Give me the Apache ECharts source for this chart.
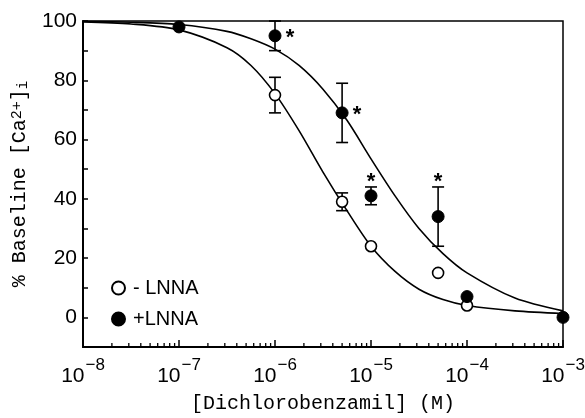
<!DOCTYPE html>
<html>
<head>
<meta charset="utf-8">
<script src="https://cdn.jsdelivr.net/npm/echarts@6/dist/echarts.min.js"></script>
<style>
html, body { margin: 0; padding: 0; background: #fff; }
#chart { width: 585px; height: 418px; }
</style>
</head>
<body>
<div id="chart"></div>
<script>
// measured points (dichlorobenzamil, M)
var openX = [1e-6, 5e-6, 1e-5, 5e-5, 1e-4];
var openY = [75, 39, 24, 15, 4];
var openErr = [6, 3, 0, 0, 0];

var filledX = [1e-7, 1e-6, 5e-6, 1e-5, 5e-5, 1e-4, 1e-3];
var filledY = [98, 95, 69, 41, 34, 7, 0];
var filledErr = [0, 5, 10, 3, 10, 0, 0];
var filledStar = ['', 'right', 'right', 'top', 'top', '', ''];

// fitted curves
var curveX = [1e-8, 3.16e-8, 1e-7, 3.16e-7, 5.62e-7, 1e-6, 1.78e-6, 3.16e-6, 5.62e-6, 1e-5, 1.78e-5, 3.16e-5, 5.62e-5, 1e-4, 3.16e-4, 1e-3];
var openCurve = [99.7, 99.0, 97, 91, 85, 75.5, 63, 49, 36, 24, 15.5, 9.5, 6, 4, 2.2, 1.3];
var filledCurve = [99.9, 99.6, 98.8, 96.5, 94, 90.5, 85, 77, 66.5, 53.5, 41, 30, 21.5, 15, 6.5, 2.2];

var yTicks = [0, 20, 40, 60, 80, 100];
var legendNames = ['- LNNA', '+LNNA'];

function pairs(xs, ys) {
    return xs.map(function (x, i) { return [x, ys[i]]; });
}

// x minor ticks 2..9 per decade
var minorX = [];
for (var d = -8; d < -3; d++) {
    for (var m = 2; m <= 9; m++) minorX.push([m * Math.pow(10, d), -10]);
}

function errItem(params, api) {
    var x = api.value(0), y = api.value(1), e = api.value(2);
    var kids = [];
    var top = api.coord([x, y + e]), bot = api.coord([x, y - e]);
    if (e > 0) {
        var w = 6;
        kids.push({ type: 'line', shape: { x1: top[0], y1: top[1], x2: bot[0], y2: bot[1] }, style: { stroke: '#000', lineWidth: 1.6 } });
        kids.push({ type: 'line', shape: { x1: top[0] - w, y1: top[1], x2: top[0] + w, y2: top[1] }, style: { stroke: '#000', lineWidth: 1.6 } });
        kids.push({ type: 'line', shape: { x1: bot[0] - w, y1: bot[1], x2: bot[0] + w, y2: bot[1] }, style: { stroke: '#000', lineWidth: 1.6 } });
    }
    var star = params.seriesName === 'errFilled' ? filledStar[params.dataIndex] : '';
    if (star) {
        var p = api.coord([x, y]);
        var sx = star === 'right' ? p[0] + 15 : top[0];
        var sy = star === 'right' ? p[1] + 2 : top[1] - 5;
        kids.push({ type: 'text', style: { text: '*', x: sx, y: sy, align: 'center', verticalAlign: 'middle', font: 'bold 22px "Liberation Sans"', fill: '#000' } });
    }
    return { type: 'group', children: kids };
}

var myChart = echarts.init(document.getElementById('chart'));

var option = {
    animation: false,
    backgroundColor: '#fff',
    grid: {
        left: 83, right: 22, top: 21, bottom: 71,
        outerBoundsMode: 'none',
        show: true, borderColor: '#000', borderWidth: 1.5
    },
    legend: {
        data: legendNames,
        orient: 'vertical',
        left: 111, top: 278,
        padding: 0,
        itemGap: 11,
        itemWidth: 13, itemHeight: 13,
        icon: 'circle',
        textStyle: { fontFamily: 'Liberation Sans', fontSize: 20, color: '#000', padding: [0, 0, 0, 3] }
    },
    xAxis: {
        type: 'log',
        min: 1e-8, max: 1e-3,
        logBase: 10,
        name: '[Dichlorobenzamil] (M)',
        nameLocation: 'middle',
        nameGap: 47,
        nameTextStyle: { fontFamily: 'Liberation Mono', fontSize: 20, color: '#000' },
        axisLine: { onZero: false, lineStyle: { color: '#000', width: 2 } },
        axisTick: { inside: true, length: 7, lineStyle: { color: '#000', width: 1.5 } },
        splitLine: { show: false },
        axisLabel: {
            margin: 10,
            formatter: function (v) {
                var e = Math.round(Math.log10(v));
                return '{b|10}{s|\u2212' + Math.abs(e) + '}';
            },
            rich: {
                b: { fontFamily: 'Liberation Sans', fontSize: 21, color: '#000', lineHeight: 30, verticalAlign: 'bottom' },
                s: { fontFamily: 'Liberation Sans', fontSize: 17, color: '#000', lineHeight: 18, verticalAlign: 'top', padding: [0, 0, 0, 1] }
            }
        }
    },
    yAxis: {
        type: 'value',
        min: -10, max: 100, interval: 10,
        name: '% Baseline [Ca{sup|2+}]{sub|i}',
        nameLocation: 'middle',
        nameGap: 53,
        nameRotate: 90,
        nameTextStyle: {
            fontFamily: 'Liberation Mono', fontSize: 20, color: '#000',
            rich: {
                sup: { fontFamily: 'Liberation Mono', fontSize: 15, color: '#000', verticalAlign: 'top' },
                sub: { fontFamily: 'Liberation Mono', fontSize: 14, color: '#000', verticalAlign: 'bottom' }
            }
        },
        axisLine: { lineStyle: { color: '#000', width: 2 } },
        axisTick: { inside: true, length: 5, lineStyle: { color: '#000', width: 1.5 } },
        splitLine: { show: false },
        axisLabel: {
            margin: 6,
            fontFamily: 'Liberation Sans', fontSize: 21, color: '#000',
            formatter: function (v) { return yTicks.indexOf(v) >= 0 ? String(v) : ''; }
        }
    },
    series: [
        {
            type: 'line', name: 'fitOpen', data: pairs(curveX, openCurve),
            showSymbol: false, smooth: 0.3, silent: true,
            lineStyle: { color: '#000', width: 1.6 }, z: 2
        },
        {
            type: 'line', name: 'fitFilled', data: pairs(curveX, filledCurve),
            showSymbol: false, smooth: 0.3, silent: true,
            lineStyle: { color: '#000', width: 1.6 }, z: 2
        },
        {
            type: 'custom', name: 'errOpen', renderItem: errItem, silent: true,
            data: openX.map(function (x, i) { return [x, openY[i], openErr[i]]; }), z: 3
        },
        {
            type: 'custom', name: 'errFilled', renderItem: errItem, silent: true,
            data: filledX.map(function (x, i) { return [x, filledY[i], filledErr[i]]; }), z: 3
        },
        {
            type: 'scatter', name: legendNames[0], data: pairs(openX, openY),
            symbol: 'circle', symbolSize: 11,
            itemStyle: { color: '#fff', borderColor: '#000', borderWidth: 1.6, opacity: 1 }, z: 4
        },
        {
            type: 'scatter', name: legendNames[1], data: pairs(filledX, filledY),
            symbol: 'circle', symbolSize: 12,
            itemStyle: { color: '#000', borderColor: '#000', borderWidth: 1, opacity: 1 }, z: 5
        },
        {
            type: 'custom', name: 'minorTicks', silent: true, data: minorX,
            renderItem: function (params, api) {
                var p = api.coord([api.value(0), api.value(1)]);
                return { type: 'line', shape: { x1: p[0], y1: p[1], x2: p[0], y2: p[1] - 4 }, style: { stroke: '#000', lineWidth: 1.3 } };
            }
        }
    ]
};

myChart.setOption(option);
</script>
</body>
</html>
